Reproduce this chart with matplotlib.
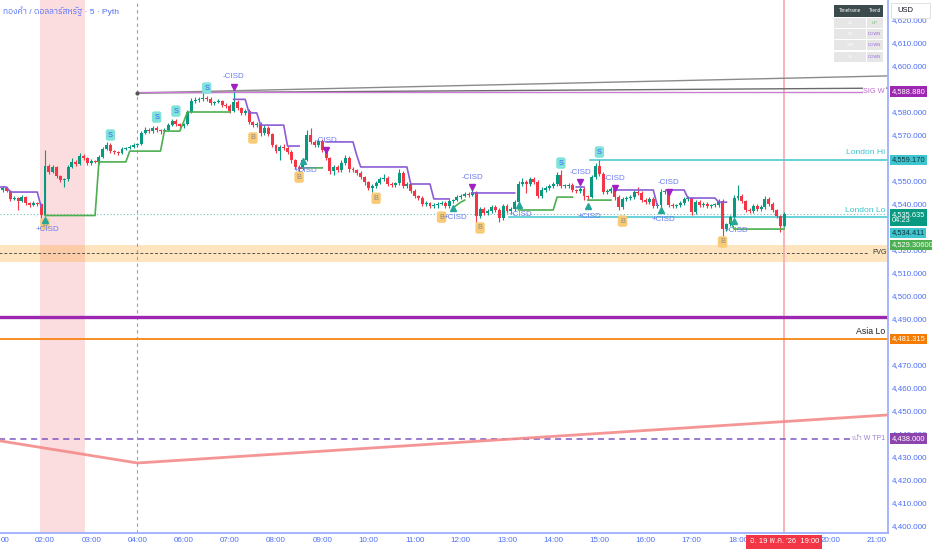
"""
Gold / USD 5-minute chart: candles, trailing lines, CISD marks, session levels.
"""
import numpy as np
import matplotlib
matplotlib.use("Agg")
import matplotlib.pyplot as plt
import matplotlib.transforms as mtransforms
from matplotlib import font_manager
from matplotlib.patches import Rectangle
from matplotlib.ticker import FixedLocator, FuncFormatter

try:
    from fontTools.ttLib import TTFont
except ImportError:
    TTFont = None

# ---- candles (one row per hour, 5-minute bars) ----
first_open = 4547.0
closes = np.array([
    4546.1, 4547.0, 4545.7, 4542.2, 4542.6, 4541.3, 4543.0, 4540.4, 4539.6, 4540.4, 4540.0, 4535.2,  # 01
    4556.5, 4553.9, 4556.1, 4552.2, 4550.4, 4550.9, 4556.1, 4558.3, 4557.4, 4560.9, 4560.0, 4557.8,  # 02
    4558.7, 4558.3, 4560.4, 4563.9, 4565.7, 4563.0, 4562.6, 4562.2, 4563.9, 4564.4, 4564.8, 4565.7,  # 03
    4566.1, 4570.9, 4572.2, 4571.7, 4573.0, 4572.2, 4571.7, 4572.2, 4574.3, 4576.1, 4574.8, 4573.9,  # 04
    4574.8, 4580.0, 4584.8, 4585.2, 4585.7, 4586.1, 4585.7, 4583.9, 4584.3, 4584.8, 4583.0, 4582.6,  # 06
    4580.4, 4584.3, 4581.7, 4579.6, 4580.4, 4575.7, 4574.3, 4574.8, 4570.9, 4573.0, 4570.4, 4565.7,  # 07
    4563.0, 4564.8, 4564.4, 4562.6, 4559.1, 4556.1, 4555.2, 4559.1, 4570.0, 4567.0, 4565.7, 4567.4,  # 08
    4563.5, 4560.0, 4554.3, 4556.1, 4554.8, 4557.8, 4560.0, 4555.2, 4554.8, 4553.5, 4551.7, 4549.6,  # 09
    4547.0, 4547.8, 4549.1, 4550.9, 4551.3, 4548.7, 4548.3, 4549.1, 4553.5, 4547.8, 4548.7, 4545.7,  # 10
    4543.5, 4542.6, 4540.0, 4540.4, 4539.1, 4539.6, 4540.0, 4540.4, 4539.1, 4541.3, 4541.7, 4543.0,  # 11
    4543.5, 4544.4, 4543.9, 4545.2, 4534.8, 4537.8, 4536.1, 4537.0, 4538.7, 4537.4, 4533.9, 4539.1,  # 12
    4537.0, 4537.8, 4540.9, 4548.7, 4549.6, 4548.7, 4550.9, 4549.6, 4543.5, 4546.1, 4547.0, 4547.8,  # 13
    4548.7, 4552.6, 4547.8, 4547.8, 4548.3, 4546.1, 4545.7, 4546.5, 4543.5, 4543.0, 4551.7, 4556.5,  # 14
    4553.0, 4545.2, 4545.7, 4546.5, 4543.0, 4538.7, 4542.2, 4542.6, 4543.0, 4545.2, 4544.8, 4541.7,  # 15
    4540.9, 4542.2, 4539.1, 4539.6, 4545.2, 4545.7, 4539.6, 4539.1, 4539.6, 4540.4, 4542.2, 4542.6,  # 16
    4536.5, 4540.9, 4539.6, 4540.0, 4539.1, 4539.6, 4539.6, 4541.3, 4529.1, 4531.3, 4534.4, 4542.6,  # 17
    4543.5, 4541.3, 4537.4, 4537.0, 4539.1, 4537.8, 4538.7, 4542.2, 4540.0, 4537.4, 4534.8, 4530.4,  # 18
    4535.6,                                                                                          # 19
])
wick_hi = np.array([
    0.9, 0.7, 0.6, 0.5, 0.9, 0.5, 0.8, 0.5, 0.6, 0.9, 0.6, 0.4,
    7.0, 0.9, 1.0, 0.6, 0.5, 0.6, 0.9, 1.5, 0.8, 1.2, 1.0, 0.6,
    0.7, 0.6, 0.8, 0.9, 1.3, 0.7, 0.6, 0.5, 0.8, 0.6, 0.7, 0.9,
    0.6, 1.0, 1.2, 0.8, 1.1, 0.7, 0.6, 0.8, 0.9, 1.0, 0.7, 0.6,
    0.6, 0.7, 1.1, 1.2, 0.9, 2.6, 1.0, 0.8, 0.7, 0.9, 0.6, 0.8,
    0.7, 4.3, 0.8, 0.6, 0.9, 0.7, 0.6, 1.0, 0.8, 1.2, 0.7, 0.6,
    0.6, 0.9, 1.2, 0.7, 0.8, 0.6, 0.7, 0.9, 2.2, 3.0, 0.8, 1.0,
    0.7, 0.8, 0.6, 1.0, 0.8, 1.5, 1.2, 0.7, 0.8, 0.6, 0.7, 0.6,
    0.6, 0.7, 0.9, 1.0, 1.8, 0.7, 0.8, 0.6, 1.6, 0.7, 0.9, 0.6,
    0.7, 0.6, 0.8, 0.7, 0.6, 1.0, 0.8, 0.9, 0.7, 0.8, 0.6, 0.9,
    0.8, 0.9, 0.7, 1.7, 0.6, 0.9, 0.8, 1.0, 0.9, 0.7, 0.8, 1.0,
    0.7, 0.8, 0.9, 1.2, 1.5, 0.9, 1.0, 0.8, 0.7, 1.4, 0.8, 0.9,
    0.8, 1.2, 2.2, 0.9, 0.8, 0.7, 0.6, 0.9, 0.7, 0.6, 1.1, 1.3,
    2.6, 0.7, 0.8, 1.0, 0.6, 0.7, 0.9, 0.8, 0.7, 1.0, 2.2, 0.7,
    0.7, 0.9, 0.8, 0.7, 1.2, 0.8, 0.7, 0.9, 0.6, 1.0, 0.8, 0.7,
    0.6, 1.0, 0.7, 0.8, 0.7, 0.6, 0.8, 0.9, 0.7, 0.6, 0.8, 1.2,
    4.8, 0.7, 0.6, 0.8, 0.9, 0.7, 0.8, 1.2, 0.9, 0.7, 0.6, 0.5,
    0.9,
])
wick_lo = np.array([
    0.6, 0.7, 0.5, 1.0, 0.6, 3.9, 0.6, 0.7, 0.8, 0.5, 0.7, 1.3,
    0.4, 0.8, 0.6, 0.9, 1.0, 3.0, 0.7, 0.5, 0.8, 0.6, 0.7, 0.9,
    0.8, 0.6, 0.7, 0.5, 0.6, 0.9, 0.7, 0.8, 0.6, 0.5, 0.7, 0.6,
    0.8, 0.6, 0.5, 0.9, 0.7, 0.8, 1.2, 0.6, 0.5, 0.6, 0.8, 1.0,
    0.9, 0.5, 0.6, 0.8, 0.7, 0.9, 0.8, 0.7, 0.9, 0.6, 0.8, 0.7,
    1.0, 0.6, 0.9, 0.8, 0.7, 0.9, 1.0, 0.8, 1.2, 0.7, 0.9, 0.8,
    1.0, 3.9, 0.8, 0.9, 1.2, 1.0, 1.3, 0.6, 0.5, 0.7, 1.1, 0.8,
    0.9, 1.0, 1.2, 1.5, 1.0, 0.8, 0.7, 1.1, 0.9, 0.8, 1.0, 1.2,
    1.0, 1.7, 0.8, 0.6, 0.7, 0.9, 0.8, 1.0, 0.7, 0.9, 0.8, 1.0,
    0.9, 1.0, 0.8, 0.7, 1.0, 0.9, 1.3, 0.6, 0.8, 0.7, 0.9, 0.6,
    0.7, 0.6, 0.8, 0.6, 2.6, 1.0, 0.9, 0.8, 0.7, 1.0, 1.7, 0.8,
    0.9, 1.0, 0.8, 0.7, 0.8, 3.9, 0.9, 1.0, 1.0, 0.8, 0.7, 0.9,
    0.9, 0.7, 1.0, 0.8, 0.9, 0.8, 0.7, 1.0, 1.7, 1.2, 0.6, 0.8,
    0.8, 1.0, 0.9, 0.7, 1.1, 1.3, 0.9, 0.8, 0.7, 0.9, 0.8, 1.0,
    1.0, 0.7, 0.9, 1.0, 0.8, 0.7, 1.1, 0.8, 0.9, 0.7, 0.8, 0.9,
    1.2, 0.8, 0.9, 0.7, 0.8, 0.9, 0.7, 0.8, 3.0, 1.0, 0.7, 0.6,
    0.8, 0.9, 1.0, 0.8, 0.7, 0.9, 0.8, 0.7, 0.9, 1.0, 0.8, 2.6,
    0.6,
])

# ---- trailing lines: (first bar, last bar, level) ----
green_runs = [
    (12, 25, 4535.0), (26, 33, 4558.3), (34, 42, 4563.0), (43, 47, 4571.7),
    (48, 48, 4575.7), (49, 60, 4580.0),
    (79, 84, 4555.7),
    (118, 118, 4538.3), (119, 119, 4539.6), (120, 120, 4540.8), (121, 121, 4541.7),
    (135, 144, 4537.4), (145, 149, 4543.0),
    (153, 159, 4541.7),
    (190, 190, 4533.0), (191, 204, 4529.1),
]
purple_runs = [
    (0, 2, 4547.4), (3, 10, 4545.2), (11, 11, 4538.7),
    (61, 64, 4585.5), (65, 67, 4579.6), (68, 74, 4574.3), (75, 78, 4565.2),
    (85, 92, 4567.0), (93, 93, 4561.0), (94, 106, 4556.1), (107, 112, 4548.7), (113, 117, 4542.2),
    (123, 134, 4544.8),
    (150, 152, 4547.4),
    (160, 170, 4546.1), (171, 171, 4539.6),
    (174, 178, 4546.1), (179, 186, 4542.6), (187, 189, 4540.8),
]

# ---- signals ----
cisd_up_bars = [12, 79, 118, 135, 153, 172, 191]
cisd_up_prices = [4533.0, 4558.7, 4538.3, 4539.6, 4539.0, 4537.4, 4532.6]
cisd_dn_bars = [61, 85, 123, 151, 160, 174]
cisd_dn_prices = [4591.0, 4563.5, 4547.4, 4549.6, 4547.0, 4545.2]
s_bars = [29, 41, 46, 54, 146, 156]
s_prices = [4570.0, 4577.8, 4580.4, 4590.4, 4557.8, 4562.6]
b_bars = [12, 66, 78, 98, 115, 125, 162, 188]
b_prices = [4531.3, 4568.7, 4551.7, 4542.5, 4534.3, 4529.6, 4532.6, 4523.5]

# ---- levels ----
sig_w = 4588.88
london_hi = 4559.17
london_lo = 4534.411
last_price = 4535.635
trail_value = 4529.306
fvg_top, fvg_bot, fvg_mid = 4522.2, 4514.8, 4518.7
purple_level = 4491.0
asia_lo = 4481.315
tp1 = 4438.0
trend_a = ([36, 231], [4588.3, 4595.7])
trend_b = ([36, 231], [4588.3, 4590.4])
pink_line = ([0, 36, 231], [4437.1, 4427.4, 4448.3])
kill_zone = (10.7, 22.4)
sep_bar = 36
now_bar = 204

tick_bars = [12, 24, 36, 48, 60, 72, 84, 96, 108, 120, 132, 144, 156, 168, 180, 192, 216, 228]
tick_labels = ['02:00', '03:00', '04:00', '06:00', '07:00', '08:00', '09:00', '10:00', '11:00',
               '12:00', '13:00', '14:00', '15:00', '16:00', '17:00', '18:00', '20:00', '21:00']
# ticks hidden behind the price boxes are left out
price_ticks = [4400, 4410, 4420, 4430, 4440, 4450, 4460, 4470, 4490, 4500, 4510, 4520,
               4540, 4550, 4570, 4580, 4600, 4610, 4620]

table_tf = ['15', '60', '240', 'D']
table_trend = ['UP', 'DOWN', 'DOWN', 'DOWN']

title = 'ทองคำ / ดอลลาร์สหรัฐ · 5 · Pyth'
date_label = "อ. 19 พ.ค. '26  19:00"

UP, DOWN = '#089981', '#f23645'
AXIS_BLUE = '#4c6ef5'


def thai_family():
    if TTFont is None:
        return None
    best = None
    for f in font_manager.fontManager.ttflist:
        try:
            tt = TTFont(f.fname, fontNumber=0, lazy=True)
            cmap = tt.getBestCmap() or {}
        except Exception:
            continue
        if 0x0E17 in cmap:
            if 'Thai' in f.name:
                return f.name
            best = best or f.name
    return best


thai = thai_family()
plt.rcParams['font.family'] = ['Liberation Sans'] + ([thai] if thai else []) + ['DejaVu Sans']


def runs_series(runs, n):
    s = np.full(n, np.nan)
    for a, b, v in runs:
        s[a:b + 1] = v
    return s


fig = plt.figure(figsize=(9.32, 5.5), dpi=100)
ax = fig.add_axes([0, 17 / 550, 888 / 932, 533 / 550])
ax.set_xlim(0.31, 230.96)
ax.set_ylim(4396.96, 4628.7)
trans = mtransforms.blended_transform_factory(ax.transAxes, ax.transData)

# background bands
ax.axvspan(*kill_zone, color=DOWN, alpha=0.17, lw=0, zorder=0)
ax.axhspan(fvg_bot, fvg_top, color='#ff9800', alpha=0.25, lw=0, zorder=0)
ax.plot([0, 226], [fvg_mid] * 2, color='#555555', lw=0.7, dashes=(3, 2), zorder=1)
ax.axvline(sep_bar, color='#8f9be0', lw=0.8, dashes=(3, 3), zorder=1)
ax.axvline(now_bar, color='#f7a8ae', lw=1.2, zorder=1)

# horizontal levels
ax.axhline(last_price, color=UP, lw=0.8, ls=(0, (1, 2)), alpha=0.6, zorder=1)
ax.axhline(purple_level, color='#9c27b0', lw=2.4, zorder=2)
ax.axhline(asia_lo, color='#f57c00', lw=1.2, zorder=2)
ax.plot([0, 221], [tp1] * 2, color='#7e57c2', lw=1.1, dashes=(4, 3), zorder=2)
ax.plot(*pink_line, color='#f48a8a', lw=2.0, alpha=0.9, zorder=2)
ax.plot([153.5, 231], [london_hi] * 2, color='#3fc5cf', lw=1.1, zorder=2)
ax.plot([132.5, 231], [london_lo] * 2, color='#3fc5cf', lw=1.1, zorder=2)
ax.plot(*trend_a, color='#8a8a8a', lw=1.0, zorder=2)
ax.plot(*trend_b, color='#6b6b6b', lw=1.0, zorder=2)
ax.plot([36, 225], [sig_w] * 2, color='#c77dd1', lw=1.0, zorder=2)
ax.plot([36], [4588.3], 'o', ms=2, color='#555555', zorder=3)

# candles
n = len(closes)
x = np.arange(n)
opens = np.r_[first_open, closes[:-1]]
highs = np.maximum(opens, closes) + wick_hi
lows = np.minimum(opens, closes) - wick_lo
colors = np.where(closes >= opens, UP, DOWN)
ax.vlines(x, lows, highs, colors=colors, lw=0.8, zorder=3)
ax.bar(x, np.maximum(np.abs(closes - opens), 0.3), bottom=np.minimum(opens, closes),
       width=0.76, color=colors, lw=0, zorder=4)

# trailing lines
ax.plot(x, runs_series(green_runs, n), color='#4caf50', lw=1.2, zorder=5)
ax.plot(x, runs_series(purple_runs, n), color='#8b5cd6', lw=1.2, zorder=5)

# CISD marks
ax.plot(cisd_up_bars, cisd_up_prices, '^', ms=4, color='#26a69a', zorder=7)
ax.plot(cisd_dn_bars, cisd_dn_prices, 'v', ms=4, color='#a020c0', zorder=7)
for b, p in zip(cisd_up_bars, cisd_up_prices):
    ax.annotate('+CISD', (b, p), xytext=(1.5, -7), textcoords='offset points', ha='center',
                va='center', fontsize=5.8, color='#6b7cf0', zorder=7)
for b, p in zip(cisd_dn_bars, cisd_dn_prices):
    ax.annotate('-CISD', (b, p), xytext=(0, 7), textcoords='offset points', ha='center',
                va='center', fontsize=5.8, color='#6b7cf0', zorder=7)
for b, p in zip(s_bars, s_prices):
    ax.text(b, p, 'S', ha='center', va='center', fontsize=5.3, color='#3d5afe', zorder=8,
            bbox=dict(boxstyle='round,pad=0.3', fc='#7fe3d9', ec='none'))
for b, p in zip(b_bars, b_prices):
    ax.text(b, p, 'B', ha='center', va='center', fontsize=5.3, color='#8a8a8a', zorder=6,
            bbox=dict(boxstyle='round,pad=0.3', fc='#f9cb77', ec='none'))

# right-side labels on the chart
ax.text(0.9966, sig_w, 'SIG W', transform=trans, ha='right', va='center', fontsize=5.3,
        color='#c06ad0', zorder=9, bbox=dict(boxstyle='square,pad=0.1', fc='white', ec='none'))
ax.text(0.9966, 4562.3, 'London Hi', transform=trans, ha='right', va='center', fontsize=6.1,
        color='#3bc4cf', zorder=9)
ax.text(0.9966, 4537.0, 'London Lo', transform=trans, ha='right', va='center', fontsize=6.1,
        color='#3bc4cf', zorder=9)
ax.text(0.999, fvg_mid, 'FVG', transform=trans, ha='right', va='center', fontsize=5,
        color='#333333', zorder=9)
ax.text(0.9966, 4484.4, 'Asia Lo', transform=trans, ha='right', va='center', fontsize=6.3,
        color='#222222', zorder=9)
ax.text(0.9966, tp1, 'เป้า W TP1', transform=trans, ha='right', va='center', fontsize=5,
        color='#9b7fd4', zorder=9)

# axes styling
for side in ('left', 'top'):
    ax.spines[side].set_visible(False)
for side in ('right', 'bottom'):
    ax.spines[side].set_color('#9db0ff')
    ax.spines[side].set_linewidth(1.3)
ax.yaxis.tick_right()
ax.yaxis.set_major_locator(FixedLocator(price_ticks))
ax.yaxis.set_major_formatter(FuncFormatter(lambda v, _: f'{v:,.3f}'))
ax.xaxis.set_major_locator(FixedLocator(tick_bars))
ax.set_xticklabels(tick_labels)
ax.tick_params(axis='both', length=0, labelsize=5.8, labelcolor=AXIS_BLUE)
ax.tick_params(axis='x', pad=3.0)
ax.tick_params(axis='y', pad=3.0)
ax.grid(False)


def price_box(y, text, fc, tc='white'):
    ax.text(1.004, y, text, transform=trans, ha='left', va='center', fontsize=5.4, color=tc,
            zorder=20, clip_on=False, linespacing=0.95,
            bbox=dict(boxstyle='square,pad=0.22', fc=fc, ec='none'))


price_box(sig_w, '4,588.880', '#9c27b0')
price_box(london_hi, '4,559.170', '#3fc5cf', '#10353a')
price_box(4534.1, f'{last_price:,.3f}\n04:23', UP)
price_box(4527.4, f'{london_lo:,.3f}', '#3fc5cf', '#10353a')
price_box(4522.3, f'{trail_value:,.5f}', '#4caf50')
price_box(asia_lo, f'{asia_lo:,.3f}', '#f57c00')
price_box(tp1, f'{tp1:,.3f}', '#8e44ad')

xt = mtransforms.blended_transform_factory(ax.transData, ax.transAxes)
ax.text(now_bar, -0.0165, date_label, transform=xt, ha='center', va='center', fontsize=5.5,
        color='white', zorder=20, clip_on=False,
        bbox=dict(boxstyle='square,pad=0.45', fc=DOWN, ec='none'))
fig.text(0.001, 9 / 550, '00', fontsize=5.8, color=AXIS_BLUE, va='center')

# title and top-right widgets
fig.text(3 / 932, 1 - 11 / 550, title, fontsize=6, color='#4f6ef7', va='center')
fig.patches.append(Rectangle((891 / 932, 1 - 18 / 550), 39 / 932, 15 / 550, transform=fig.transFigure,
                             fc='white', ec='#dddddd', lw=0.6, zorder=30))
fig.text(897 / 932, 1 - 10.5 / 550, 'USD', fontsize=5.5, color='#131722', va='center', zorder=31)

tab = fig.add_axes([834 / 932, 1 - 62 / 550, 49 / 932, 57 / 550])
tab.set_xlim(0, 49)
tab.set_ylim(62, 5)
tab.axis('off')
tab.add_patch(Rectangle((0, 5), 49, 12, fc='#3b4a4c', ec='none'))
tab.text(16, 11, 'Timeframe', ha='center', va='center', fontsize=3.3, color='white')
tab.text(40.5, 11, 'Trend', ha='center', va='center', fontsize=3.3, color='white')
row_tops = [18, 29, 40, 52]
for top, tf, tr in zip(row_tops, table_tf, table_trend):
    tab.add_patch(Rectangle((0, top), 31.5, 10, fc='#e6e6e6', ec='none'))
    tab.add_patch(Rectangle((32.5, top), 16.5, 10, fc='#e6e6e6', ec='none'))
    tab.text(16, top + 5, tf, ha='center', va='center', fontsize=3.2, color='white')
    tab.text(40.7, top + 5, tr, ha='center', va='center', fontsize=3.0,
             color='#66bb6a' if tr == 'UP' else '#9c6ade')

fig.savefig('out.png', dpi=100)
